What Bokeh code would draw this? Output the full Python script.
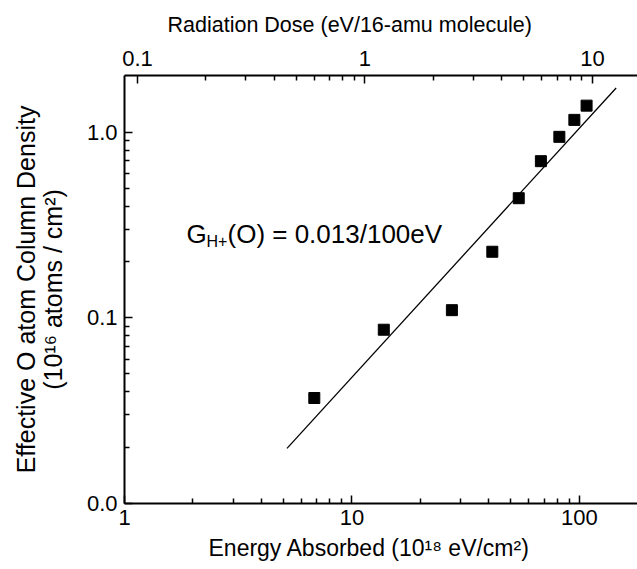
from bokeh.plotting import figure
from bokeh.models import Range1d, LogAxis, FixedTicker, Label, LogScale, BasicTickFormatter, Title
from bokeh.embed import file_html
from bokeh.resources import INLINE

# ---- data ----
energy = [6.83, 13.8, 27.5, 41.4, 54.1, 67.7, 81.6, 95.0, 107.5]      # 10^18 eV/cm^2
density = [0.037, 0.0863, 0.110, 0.227, 0.441, 0.698, 0.944, 1.165, 1.39]  # 10^16 atoms/cm^2
fit_energy = [5.18, 145.0]
fit_density = [0.0198, 1.73]

x_major = [1, 10, 100]
x_minor = [2, 3, 4, 5, 6, 7, 8, 9, 20, 30, 40, 50, 60, 70, 80, 90]
x_labels = {1: "1", 10: "10", 100: "100"}
y_major = [0.01, 0.1, 1]
y_minor = [0.02, 0.03, 0.04, 0.05, 0.06, 0.07, 0.08, 0.09,
           0.2, 0.3, 0.4, 0.5, 0.6, 0.7, 0.8, 0.9]
y_labels = {0.01: "0.0", 0.1: "0.1", 1: "1.0"}
top_major = [0.1, 1, 10]
top_minor = [0.2, 0.3, 0.4, 0.5, 0.6, 0.7, 0.8, 0.9, 2, 3, 4, 5, 6, 7, 8, 9]
top_labels = {0.1: "0.1", 1: "1", 10: "10"}

DOSE_PER_ENERGY = 0.0877
X_RANGE = (1, 180)
Y_RANGE = (0.01, 2.02)

x_title = "Energy Absorbed (10¹⁸ eV/cm²)"
top_title = "Radiation Dose (eV/16-amu molecule)"
y_title = "Effective O atom Column Density\n(10¹⁶ atoms / cm²)"
annot_main = "(O) = 0.013/100eV"
annot_G = "G"
annot_sub = "H+"
annot_x, annot_y = 1.873, 0.2844

FONT = "Liberation Sans"

p = figure(width=637, height=569, x_axis_type="log", y_axis_type="log",
           x_range=Range1d(*X_RANGE), y_range=Range1d(*Y_RANGE),
           output_backend="svg", toolbar_location=None,
           min_border_left=124, min_border_right=0,
           min_border_top=75, min_border_bottom=66)
p.outline_line_color = None
p.grid.visible = False
p.background_fill_color = "white"
p.border_fill_color = "white"

p.extra_x_ranges = {"dose": Range1d(X_RANGE[0] * DOSE_PER_ENERGY, X_RANGE[1] * DOSE_PER_ENERGY)}
p.extra_x_scales = {"dose": LogScale()}
top = LogAxis(x_range_name="dose")
p.add_layout(top, "above")
bottom = p.below[0]
left = p.left[0]


def style(ax, major, minor, labels):
    ax.ticker = FixedTicker(ticks=major, minor_ticks=minor)
    ax.formatter = BasicTickFormatter(use_scientific=False)
    ax.major_label_overrides = labels
    ax.major_label_text_font = FONT
    ax.major_label_text_font_size = "22px"
    ax.major_label_text_color = "black"
    ax.axis_label_text_font = FONT
    ax.axis_label_text_font_style = "normal"
    ax.axis_label_text_color = "black"
    ax.axis_line_color = "black"
    ax.axis_line_width = 2
    ax.major_tick_in = 8
    ax.major_tick_out = 0
    ax.minor_tick_in = 5
    ax.minor_tick_out = 0
    ax.major_tick_line_color = "black"
    ax.minor_tick_line_color = "black"
    ax.major_tick_line_width = 1.5
    ax.minor_tick_line_width = 1.5


style(bottom, x_major, x_minor, x_labels)
style(left, y_major, y_minor, y_labels)
style(top, top_major, top_minor, top_labels)

bottom.major_label_standoff = 6
top.major_label_standoff = 10
left.major_label_standoff = 7
left.axis_label = y_title
left.axis_label_text_font_size = "25px"
left.axis_label_standoff = 17
left.axis_label_text_line_height = 0.95


def title(text, size, **kw):
    return Title(text=text, text_font=FONT, text_font_size=size, text_font_style="normal",
                 text_color="black", **kw)


# top and bottom axis titles as side-panel titles, shifted to match the reference
p.add_layout(title(top_title, "21.5px", align="left", offset=43, standoff=21), "above")
p.add_layout(title(x_title, "23px", align="left", offset=84, standoff=11), "below")

p.line(fit_energy, fit_density, line_color="black", line_width=1.3)
p.scatter(energy, density, marker="square", size=11, fill_color="black", line_color="black")

p.add_layout(Label(x=annot_x, y=annot_y, text=annot_G, text_font=FONT,
                   text_font_size="26px", text_color="black", text_baseline="alphabetic"))
p.add_layout(Label(x=annot_x, y=annot_y, x_offset=20, y_offset=-8, text=annot_sub, text_font=FONT,
                   text_font_size="16px", text_color="black", text_baseline="alphabetic"))
p.add_layout(Label(x=annot_x, y=annot_y, x_offset=41, text=annot_main, text_font=FONT,
                   text_font_size="26px", text_color="black", text_baseline="alphabetic"))

open("out.html", "w").write(file_html(p, INLINE))
